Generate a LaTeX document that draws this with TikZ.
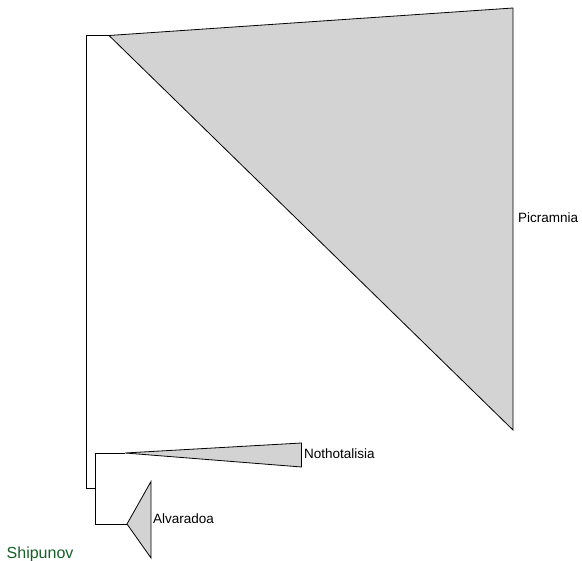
\documentclass[tikz,border=0pt]{standalone}
\usepackage{fontspec}
\setmainfont{Liberation Sans}
\definecolor{cladefill}{RGB}{211,211,211}
\definecolor{signgreen}{RGB}{20,95,40}
\begin{document}
\begin{tikzpicture}[x=1pt,y=-1pt,
  branch/.style={draw=black,line width=0.8pt},
  clade/.style={draw=black,fill=cladefill,line width=0.8pt,line join=miter},
  tiplabel/.style={anchor=base west,inner sep=0pt,font=\fontsize{13.5}{15}\selectfont}]
\useasboundingbox (0,0) rectangle (582,561);
% coordinates
\coordinate (root) at (86.5,488);
\coordinate (rtop) at (86.5,35.5);
\coordinate (pa) at (109,35.5);
\coordinate (sub) at (95,488);
\coordinate (stop) at (95,453);
\coordinate (sbot) at (95,524);
\coordinate (na) at (125,453);
\coordinate (aa) at (127,524);
% branches
\draw[branch] (pa) -- (rtop) -- (root) -- (sub);
\draw[branch] (na) -- (stop) -- (sbot) -- (aa);
% clades
\draw[clade] (pa) -- (513,8) -- (513,430) -- cycle;
\draw[clade] (na) -- (301.5,443) -- (301.5,467) -- cycle;
\draw[clade] (aa) -- (151,481.5) -- (151,558) -- cycle;
% labels
\node[tiplabel] (picramnia) at (518,222.5) {Picramnia};
\node[tiplabel] (nothotalisia) at (304,459) {Nothotalisia};
\node[tiplabel] (alvaradoa) at (153,523.3) {Alvaradoa};
\node[tiplabel,text=signgreen,font=\fontsize{16}{18}\selectfont] (shipunov) at (6.5,559) {Shipunov};
\end{tikzpicture}
\end{document}
